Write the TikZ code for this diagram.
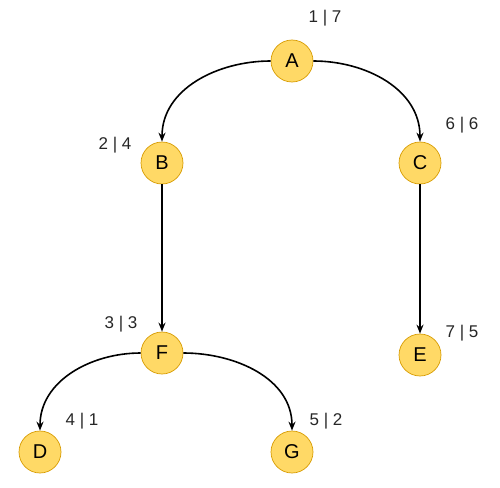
\documentclass[tikz,border=0pt]{standalone}
\usepackage{fontspec}
\setmainfont{Liberation Sans}
\usetikzlibrary{arrows.meta}
\begin{document}
\begin{tikzpicture}[x=1pt,y=-1pt,
  vert/.style={circle,line width=0.7pt,minimum size=42pt,inner sep=0pt,font=\fontsize{20}{20}\selectfont},
  lab/.style={font=\fontsize{17}{17}\selectfont,text=black!85},
  edge/.style={draw=black,line width=1.6pt,-{Stealth[length=9pt,width=7pt]}}]
\useasboundingbox (0,0) rectangle (500,487);
\definecolor{vfill}{HTML}{FFD966}
\definecolor{vdraw}{HTML}{D79B00}
\tikzset{vert/.append style={fill=vfill,draw=vdraw}}
\node[vert] (A) at (292,61) {A};
\node[vert] (B) at (162,163) {B};
\node[vert] (C) at (420,163) {C};
\node[vert] (F) at (162,353) {F};
\node[vert] (E) at (420,355) {E};
\node[vert] (D) at (40,452) {D};
\node[vert] (G) at (292,452) {G};
\node[lab] (lA) at (325,18) {1 | 7};
\node[lab] (lB) at (115,145) {2 | 4};
\node[lab] (lC) at (462,125) {6 | 6};
\node[lab] (lF) at (121,324) {3 | 3};
\node[lab] (lE) at (462,333) {7 | 5};
\node[lab] (lD) at (82,421) {4 | 1};
\node[lab] (lG) at (326,421) {5 | 2};
\draw[edge] (A.west) to[out=180,in=90] (B.north);
\draw[edge] (A.east) to[out=0,in=90] (C.north);
\draw[edge] (B.south) -- (F.north);
\draw[edge] (C.south) -- (E.north);
\draw[edge] (F.west) to[out=180,in=90] (D.north);
\draw[edge] (F.east) to[out=0,in=90] (G.north);
\end{tikzpicture}
\end{document}
